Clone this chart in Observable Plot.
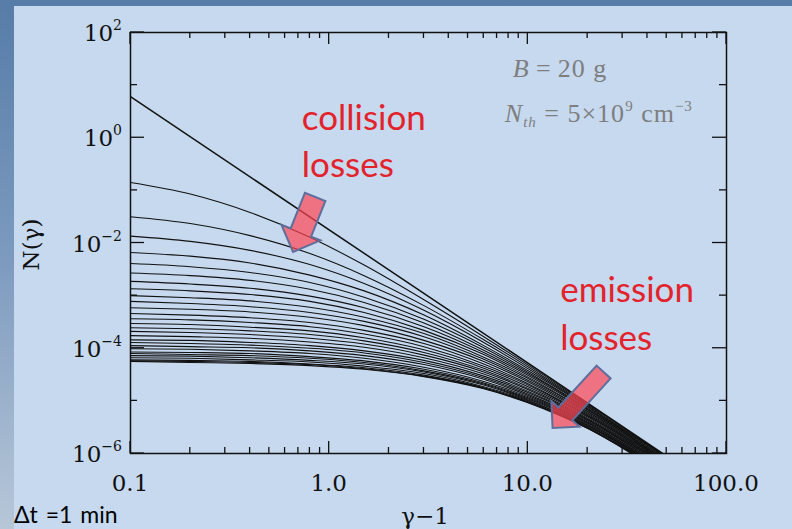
<!DOCTYPE html>
<html>
<head>
<meta charset="utf-8">
<script src="https://cdn.jsdelivr.net/npm/d3@7"></script>
<script src="https://cdn.jsdelivr.net/npm/@observablehq/plot@0.6"></script>
<style>
  html, body { margin: 0; padding: 0; }
  body { width: 792px; height: 529px; overflow: hidden; }
  #slide { position: relative; width: 792px; height: 529px;
    background: linear-gradient(180deg, #567ca8 0%, #7e9bbf 50%, #b7c7d8 100%); }
  #panel { position: absolute; left: 14px; top: 6px; right: 0; bottom: 0; background: #c6d9ee; }
  #chart { position: absolute; left: 0; top: 0; }
  #step { position: absolute; left: 14px; top: 500px; font: 23px Lato, sans-serif; color: #000; word-spacing: 2px; }
</style>
</head>
<body>
<div id="slide">
  <div id="panel"></div>
  <div id="chart"></div>
  <div id="step">Δt =1 min</div>
</div>
<script>
// Electron energy spectra N(γ) after successive 1-minute steps.
// Energies (γ−1) at which each spectrum is sampled.
const energies = [0.1, 0.2, 0.4, 0.8, 1.5, 3, 6, 12, 24, 36, 60];

// Injected power-law spectrum (log10 N at its two ends).
const injectedEnergies = [0.1, 60];
const injectedLogN = [0.78, -6.25];

// Evolved spectra, one row per time step, log10 N at each energy above.
const evolvedLogN = [
  [-0.85, -1.07, -1.42, -1.89, -2.42, -3.08, -3.78, -4.51, -5.26, -5.70, -6.27],
  [-1.50, -1.63, -1.86, -2.20, -2.62, -3.19, -3.84, -4.54, -5.28, -5.72, -6.28],
  [-1.87, -1.97, -2.14, -2.41, -2.77, -3.28, -3.89, -4.57, -5.30, -5.73, -6.30],
  [-2.18, -2.25, -2.38, -2.61, -2.91, -3.37, -3.95, -4.60, -5.31, -5.75, -6.32],
  [-2.39, -2.45, -2.56, -2.75, -3.03, -3.45, -3.99, -4.63, -5.33, -5.76, -6.33],
  [-2.57, -2.62, -2.71, -2.88, -3.13, -3.52, -4.04, -4.65, -5.35, -5.78, -6.35],
  [-2.73, -2.78, -2.86, -3.01, -3.23, -3.59, -4.08, -4.68, -5.36, -5.79, -6.37],
  [-2.87, -2.91, -2.98, -3.11, -3.32, -3.66, -4.12, -4.71, -5.38, -5.81, -6.38],
  [-3.00, -3.04, -3.10, -3.22, -3.41, -3.72, -4.17, -4.73, -5.39, -5.82, -6.40],
  [-3.11, -3.15, -3.21, -3.32, -3.49, -3.78, -4.21, -4.76, -5.41, -5.84, -6.42],
  [-3.23, -3.26, -3.31, -3.41, -3.57, -3.85, -4.25, -4.79, -5.43, -5.85, -6.43],
  [-3.34, -3.37, -3.42, -3.51, -3.66, -3.91, -4.30, -4.82, -5.45, -5.87, -6.45],
  [-3.44, -3.46, -3.51, -3.59, -3.73, -3.97, -4.34, -4.84, -5.46, -5.88, -6.47],
  [-3.53, -3.55, -3.60, -3.67, -3.80, -4.03, -4.38, -4.87, -5.48, -5.90, -6.49],
  [-3.61, -3.63, -3.67, -3.74, -3.86, -4.08, -4.42, -4.90, -5.50, -5.91, -6.50],
  [-3.68, -3.70, -3.74, -3.81, -3.92, -4.13, -4.45, -4.92, -5.52, -5.93, -6.52],
  [-3.76, -3.78, -3.81, -3.88, -3.98, -4.18, -4.49, -4.95, -5.53, -5.95, -6.54],
  [-3.84, -3.85, -3.89, -3.95, -4.05, -4.23, -4.53, -4.97, -5.55, -5.96, -6.56],
  [-3.89, -3.91, -3.94, -4.00, -4.09, -4.27, -4.56, -5.00, -5.57, -5.98, -6.57],
  [-3.95, -3.97, -3.99, -4.05, -4.14, -4.31, -4.59, -5.02, -5.58, -5.99, -6.59],
  [-4.01, -4.02, -4.05, -4.10, -4.19, -4.36, -4.63, -5.04, -5.60, -6.01, -6.61],
  [-4.07, -4.08, -4.10, -4.16, -4.24, -4.40, -4.66, -5.06, -5.62, -6.02, -6.62],
  [-4.10, -4.12, -4.14, -4.19, -4.27, -4.43, -4.68, -5.08, -5.63, -6.03, -6.64],
  [-4.14, -4.15, -4.18, -4.23, -4.30, -4.45, -4.70, -5.10, -5.64, -6.05, -6.66],
  [-4.18, -4.19, -4.22, -4.26, -4.34, -4.48, -4.73, -5.11, -5.66, -6.06, -6.67],
  [-4.22, -4.23, -4.25, -4.30, -4.37, -4.51, -4.75, -5.13, -5.67, -6.07, -6.69],
  [-4.24, -4.25, -4.27, -4.31, -4.39, -4.53, -4.76, -5.14, -5.68, -6.08, -6.70],
  [-4.25, -4.27, -4.29, -4.33, -4.40, -4.54, -4.77, -5.15, -5.68, -6.09, -6.71]
];

// Axis ticks and labels.
const xTicks = [0.1, 1, 10, 100];
const xTickLabels = ["0.1", "1.0", "10.0", "100.0"];
const xMinorTicks = [0.2, 0.3, 0.4, 0.5, 0.6, 0.7, 0.8, 0.9, 2, 3, 4, 5, 6, 7, 8, 9, 20, 30, 40, 50, 60, 70, 80, 90];
const yTicks = [1e2, 1e0, 1e-2, 1e-4, 1e-6];
const yTickExponents = ["2", "0", "\u22122", "\u22124", "\u22126"];
const yMinorTicks = [1e1, 1e-1, 1e-3, 1e-5];

// Loss annotations: text and block arrows (tail -> tip, in data units).
const noteText = ["collision\nlosses", "emission\nlosses"];
const noteX = [0.728, 14.55];
const noteY = [6.35, 3.42e-3];
const arrowTailX = [0.855, 24.2];
const arrowTailY = [0.0733, 3.46e-5];
const arrowTipX = [0.662, 13.4];
const arrowTipY = [6.59e-3, 2.99e-6];
const arrowShaft = [22, 19];
const arrowHead = [42, 38];
const arrowHeadLength = [21, 19];

// Model parameters shown in the corner.
const paramX = [8.45, 7.7];
const paramY = [13.9, 1.95];

const injectedRows = injectedEnergies.map((x, i) => ({x, n: 10 ** injectedLogN[i]}));
const evolvedRows = evolvedLogN.flatMap((series, k) =>
  series.map((v, i) => ({step: k + 1, x: energies[i], n: 10 ** v})));

const ink = "#111";
const serif = "'DejaVu Serif', serif";

function frameTicks(index, {x, y}, values, dims) {
  const top = dims.marginTop, bottom = dims.height - dims.marginBottom;
  const left = dims.marginLeft, right = dims.width - dims.marginRight;
  const g = d3.create("svg:g").attr("stroke", ink).attr("stroke-width", 1.3);
  const xt = [...xTicks.map(v => [v, 12]), ...xMinorTicks.map(v => [v, 6])];
  for (const [v, len] of xt) {
    const px = x(v);
    g.append("line").attr("x1", px).attr("x2", px).attr("y1", bottom).attr("y2", bottom - len);
    g.append("line").attr("x1", px).attr("x2", px).attr("y1", top).attr("y2", top + len);
  }
  const yt = [...yTicks.map(v => [v, 14]), ...yMinorTicks.map(v => [v, 7])];
  for (const [v, len] of yt) {
    const py = y(v);
    g.append("line").attr("y1", py).attr("y2", py).attr("x1", left).attr("x2", left + len);
    g.append("line").attr("y1", py).attr("y2", py).attr("x1", right).attr("x2", right - len);
  }
  return g.node();
}

function axisLabels(index, {x, y}, values, dims) {
  const top = dims.marginTop, bottom = dims.height - dims.marginBottom;
  const left = dims.marginLeft, right = dims.width - dims.marginRight;
  const g = d3.create("svg:g").attr("fill", ink).attr("font-family", serif).attr("font-size", 23);
  xTicks.forEach((v, i) => {
    g.append("text").attr("x", x(v)).attr("y", bottom + 38).attr("text-anchor", "middle").text(xTickLabels[i]);
  });
  yTicks.forEach((v, i) => {
    const t = g.append("text").attr("x", left - 8).attr("y", y(v) + 9).attr("text-anchor", "end");
    t.append("tspan").text("10");
    t.append("tspan").attr("font-size", 14).attr("dy", -11).text(yTickExponents[i]);
  });
  g.append("text").attr("x", (left + right) / 2 - 3).attr("y", bottom + 71).attr("text-anchor", "middle").text("γ\u22121");
  g.append("text").attr("transform", `translate(${left - 91},${(top + bottom) / 2 + 2}) rotate(-90)`)
    .attr("text-anchor", "middle").text("N(γ)");
  return g.node();
}

function blockArrows(index, {x, y}) {
  const g = d3.create("svg:g");
  arrowTailX.forEach((_, i) => {
    const tx = x(arrowTailX[i]), ty = y(arrowTailY[i]);
    const px = x(arrowTipX[i]), py = y(arrowTipY[i]);
    const len = Math.hypot(px - tx, py - ty);
    const ux = (px - tx) / len, uy = (py - ty) / len;
    const nx = -uy, ny = ux;
    const w = arrowShaft[i] / 2, h = arrowHead[i] / 2;
    const bx = px - ux * arrowHeadLength[i], by = py - uy * arrowHeadLength[i];
    const pts = [
      [tx + nx * w, ty + ny * w], [bx + nx * w, by + ny * w], [bx + nx * h, by + ny * h],
      [px, py],
      [bx - nx * h, by - ny * h], [bx - nx * w, by - ny * w], [tx - nx * w, ty - ny * w]
    ];
    g.append("polygon").attr("points", pts.map(p => p.join(",")).join(" "))
      .attr("fill", "rgba(255,70,82,0.70)").attr("stroke", "#5e6e9c").attr("stroke-width", 2)
      .attr("stroke-linejoin", "miter");
  });
  return g.node();
}

function parameters(index, {x, y}) {
  const g = d3.create("svg:g").attr("fill", "#7e7e7e").attr("text-anchor", "start")
    .attr("font-family", "'Liberation Serif', serif").attr("font-size", 26).attr("letter-spacing", 1);
  const l1 = g.append("text").attr("x", x(paramX[0])).attr("y", y(paramY[0]));
  l1.append("tspan").attr("font-style", "italic").text("B");
  l1.append("tspan").text("\u2009=\u200920 g");
  const l2 = g.append("text").attr("x", x(paramX[1])).attr("y", y(paramY[1]));
  l2.append("tspan").attr("font-style", "italic").text("N");
  l2.append("tspan").attr("font-style", "italic").attr("font-size", 15).attr("dy", 5).text("th");
  l2.append("tspan").attr("dy", -5).text(" = 5\u00d710");
  l2.append("tspan").attr("font-size", 15).attr("dy", -11).text("9");
  l2.append("tspan").attr("dy", 11).text(" cm");
  l2.append("tspan").attr("font-size", 15).attr("dy", -11).text("\u22123");
  return g.node();
}

const chart = Plot.plot({
  width: 792,
  height: 529,
  marginLeft: 130,
  marginRight: 66,
  marginTop: 32,
  marginBottom: 76,
  style: {background: "transparent", overflow: "visible"},
  x: {type: "log", domain: [0.1, 100], axis: null},
  y: {type: "log", domain: [1e-6, 1e2], axis: null},
  marks: [
    Plot.line(evolvedRows, {x: "x", y: "n", z: "step", curve: "monotone-x", stroke: ink, strokeWidth: 1.1, clip: true}),
    Plot.line(injectedRows, {x: "x", y: "n", stroke: ink, strokeWidth: 1.5, clip: true}),
    Plot.frame({stroke: ink, strokeWidth: 1.5}),
    frameTicks,
    axisLabels,
    blockArrows,
    Plot.text(noteText, {
      x: (d, i) => noteX[i], y: (d, i) => noteY[i], text: d => d,
      textAnchor: "start", lineAnchor: "top", lineHeight: 1.37,
      fontSize: 35, fontFamily: "Lato, sans-serif", fill: "#e3222b"
    }),
    parameters
  ]
});

document.getElementById("chart").appendChild(chart);
</script>
</body>
</html>
